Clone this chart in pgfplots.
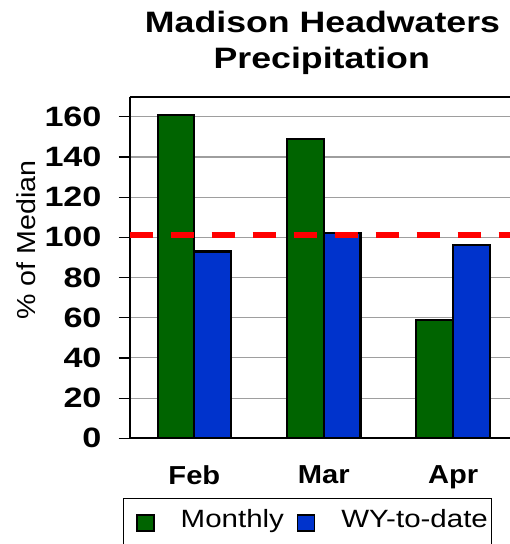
\documentclass[border=0pt]{standalone}
\usepackage{pgfplots}
\pgfplotsset{compat=1.18}
\usepackage{fontspec}
\setmainfont{Liberation Sans}
\usepackage{graphicx}
\definecolor{mgreen}{RGB}{0,100,0}
\definecolor{mblue}{RGB}{0,51,204}
\newcommand\fs[1]{\fontsize{#1}{#1}\selectfont}
\newcommand\sx[2]{\scalebox{#1}[1]{#2}}
\begin{document}
\begin{tikzpicture}
\useasboundingbox (-129.7pt,-105.7pt) rectangle (380.3pt,438.3pt);
\begin{axis}[
  at={(0,0)}, anchor=south west,
  scale only axis, width=380.3pt, height=341.6pt,
  xmin=-0.5, xmax=2.44, ymin=0, ymax=170,
  clip=false,
  axis x line*=box, axis y line*=left,
  axis line style={-, line width=1.8pt, black},
  ybar=0pt, bar width=36.7pt,
  xtick={0,1,2},
  xticklabels={\sx{1.12}{Feb},\sx{1.12}{Mar},\sx{1.12}{Apr}},
  x tick label style={font=\bfseries\fs{26}, anchor=north, inner sep=0pt, yshift=-16pt},
  xtick style={draw=none},
  ytick={0,20,...,160},
  yticklabels={\sx{1.22}{0},\sx{1.22}{20},\sx{1.22}{40},\sx{1.22}{60},\sx{1.22}{80},\sx{1.22}{100},\sx{1.22}{120},\sx{1.22}{140},\sx{1.22}{160}},
  y tick label style={font=\bfseries\fs{28}, anchor=east, inner sep=0pt, xshift=-17pt},
  tick align=outside,
  major tick length=11pt,
  ytick style={line width=1.2pt, black},
  ymajorgrids,
  grid style={line width=1.1pt, color=black!38},
  ylabel={\scalebox{1.1}[1]{\% of Median}},
  ylabel style={font=\fs{26}, at={(axis description cs:-0.273,0.58)}, anchor=center},
  legend columns=2,
  legend style={at={(axis description cs:-0.0168,-0.1756)}, anchor=north west,
    draw=black, line width=1pt, font=\fs{25}, inner xsep=2pt, inner ysep=9pt,
    nodes={text depth=16pt},
    /tikz/every odd column/.append style={column sep=24pt},
    /tikz/every even column/.append style={column sep=0.5pt}},
]
\addplot[fill=mgreen, draw=black, line width=2.2pt,
  legend image code/.code={\path (0pt,0pt); \draw[fill=mgreen, draw=black, line width=1.6pt] (10pt,-4pt) rectangle (27pt,12pt);}]
  coordinates {(0,161) (1,149) (2,59)};
\addlegendentry{\sx{1.18}{Monthly}}
\addplot[fill=mblue, draw=black, line width=2.2pt,
  legend image code/.code={\path (0pt,0pt); \draw[fill=mblue, draw=black, line width=1.6pt] (10pt,-4pt) rectangle (27pt,12pt);}]
  coordinates {(0,93) (1,102) (2,96)};
\addlegendentry{\sx{1.18}{WY-to-date}}
\addplot[red, line width=6pt, dash pattern=on 23pt off 18pt, forget plot, sharp plot]
  coordinates {(-0.5,101) (2.44,101)};
\node[anchor=base, font=\bfseries\fs{29.5}] at (axis description cs:0.507,1.1865) {\sx{1.21}{Madison Headwaters}};
\node[anchor=base, font=\bfseries\fs{29.5}] at (axis description cs:0.505,1.0831) {\sx{1.21}{Precipitation}};
\end{axis}
\end{tikzpicture}
\end{document}
